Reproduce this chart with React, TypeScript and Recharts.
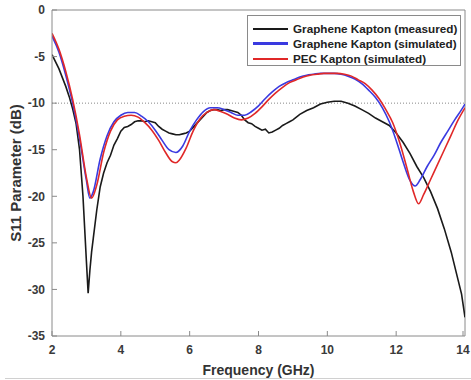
import React from "react";
import { LineChart, Line, XAxis, YAxis, ReferenceLine, Legend } from "recharts";

const xTicks = [2, 4, 6, 8, 10, 12, 14];
const yTicks = [-35, -30, -25, -20, -15, -10, -5, 0];

const measuredFreq = [
  2.0, 2.2, 2.4, 2.5, 2.6, 2.7, 2.8, 2.9, 3.0, 3.05, 3.1, 3.15, 3.2, 3.3, 3.4, 3.5, 3.6, 3.7, 3.8, 3.9,
  4.0, 4.1, 4.2, 4.3, 4.4, 4.5, 4.6, 4.7, 4.8, 4.9, 5.0, 5.1, 5.2, 5.3, 5.4, 5.5, 5.6, 5.7, 5.8, 5.9,
  6.0, 6.1, 6.2, 6.3, 6.4, 6.5, 6.6, 6.7, 6.8, 6.9, 7.0, 7.1, 7.2, 7.3, 7.4, 7.5, 7.6, 7.7, 7.8, 7.9,
  8.0, 8.1, 8.2, 8.3, 8.4, 8.5, 8.6, 8.7, 8.8, 8.9, 9.0, 9.2, 9.4, 9.6, 9.8, 10.0, 10.2, 10.4, 10.6, 10.8,
  11.0, 11.2, 11.4, 11.6, 11.8, 12.0, 12.2, 12.4, 12.6, 12.8, 13.0, 13.2, 13.4, 13.6, 13.8, 13.9, 14.0,
];
const measuredS11 = [
  -4.8, -6.3, -8.2, -9.3, -10.6, -12.2, -15.0, -20.0, -27.0, -30.4, -28.0, -26.0, -24.5, -21.5, -19.0, -17.5, -16.4, -15.6, -14.5, -13.8,
  -13.0, -12.6, -12.5, -12.3, -12.0, -11.9, -11.9, -12.0, -11.9, -12.0, -12.1, -12.5, -12.8, -13.0, -13.2, -13.3, -13.4, -13.4, -13.3, -13.2,
  -13.0, -12.6, -12.2, -11.8, -11.4, -11.0, -10.8, -10.7, -10.7, -10.8, -10.7, -10.7, -10.8, -10.9, -11.0, -11.3, -11.8, -12.1, -12.2, -12.5,
  -12.7, -12.9, -12.8, -13.2, -13.1, -12.9, -12.7, -12.4, -12.2, -12.0, -11.8, -11.2, -10.8, -10.5, -10.1, -9.9, -9.8, -9.8, -10.0, -10.3,
  -10.7, -11.1, -11.6, -12.0, -12.4, -13.2, -14.2, -15.4, -16.8, -18.0, -19.5, -21.3, -23.5, -26.0, -29.0, -30.5, -33.0,
];

const grapheneSimFreq = [
  2.0, 2.2, 2.4, 2.6, 2.8, 3.0, 3.1, 3.2, 3.4, 3.6, 3.8, 4.0, 4.2, 4.4, 4.6, 4.8, 5.0, 5.2, 5.4, 5.6,
  5.8, 6.0, 6.2, 6.4, 6.6, 6.8, 7.0, 7.2, 7.4, 7.6, 7.8, 8.0, 8.2, 8.4, 8.6, 8.8, 9.0, 9.2, 9.4, 9.6,
  9.8, 10.0, 10.2, 10.4, 10.6, 10.8, 11.0, 11.2, 11.4, 11.6, 11.8, 12.0, 12.2, 12.4, 12.55, 12.7, 12.9, 13.1, 13.3, 13.5,
  13.7, 13.9, 14.0,
];
const grapheneSimS11 = [
  -2.8, -4.5, -7.0, -10.0, -13.8, -18.3, -20.2, -19.5, -16.0, -13.5, -12.0, -11.3, -11.0, -11.0, -11.4, -12.0, -12.9, -14.0, -15.0, -15.3,
  -14.6, -13.0, -11.8, -10.9, -10.5, -10.5, -10.7, -11.0, -11.3, -11.3, -10.9, -10.3, -9.5, -8.8, -8.2, -7.8, -7.5, -7.2, -7.0, -6.9,
  -6.8, -6.8, -6.8, -6.9, -7.1, -7.4, -7.9, -8.6, -9.4, -10.5, -12.0, -14.0, -16.3, -18.3, -18.9, -18.2, -16.8, -15.6, -14.2, -13.0,
  -11.8, -10.7, -10.1,
];

const pecSimFreq = [
  2.0, 2.2, 2.4, 2.6, 2.8, 3.0, 3.15, 3.3, 3.5, 3.7, 3.9, 4.1, 4.3, 4.5, 4.7, 4.9, 5.1, 5.3, 5.5, 5.6,
  5.7, 5.9, 6.1, 6.3, 6.5, 6.7, 6.9, 7.1, 7.3, 7.5, 7.7, 7.9, 8.1, 8.3, 8.5, 8.7, 8.9, 9.1, 9.3, 9.5,
  9.7, 9.9, 10.1, 10.3, 10.5, 10.7, 10.9, 11.1, 11.3, 11.5, 11.7, 11.9, 12.1, 12.3, 12.5, 12.65, 12.8, 13.0, 13.2, 13.4,
  13.6, 13.8, 14.0,
];
const pecSimS11 = [
  -2.5, -4.2, -6.6, -9.6, -13.4, -18.0, -20.2, -18.8, -15.3, -13.0, -11.8, -11.4, -11.3, -11.5, -12.1, -12.9, -14.0, -15.3, -16.3, -16.4,
  -16.1, -14.8, -13.0, -11.7, -11.0, -10.7, -10.9, -11.2, -11.6, -11.8, -11.6, -11.1, -10.4, -9.6, -8.9, -8.3, -7.8, -7.5, -7.2, -7.0,
  -6.9, -6.8, -6.8, -6.8, -6.9, -7.1, -7.5, -7.9, -8.6, -9.5, -10.7, -12.1, -14.2, -16.8, -19.5, -20.8, -19.8, -18.2, -16.6, -15.0,
  -13.4, -11.8, -10.5,
];

const seriesNames = [
  "Graphene Kapton (measured)",
  "Graphene Kapton (simulated)",
  "PEC Kapton (simulated)",
];
const seriesColors = ["#1a1a1a", "#3a3ae0", "#e02828"];

const toRows = (fs: number[], vs: number[]) => fs.map((f, i) => ({ f, v: vs[i] }));
const measuredData = toRows(measuredFreq, measuredS11);
const grapheneData = toRows(grapheneSimFreq, grapheneSimS11);
const pecData = toRows(pecSimFreq, pecSimS11);

const FONT = "'Liberation Sans', Arial, Helvetica, sans-serif";
const AXIS = "#8a8a8a";
const LABEL_FILL = "#3a3a3a";

const BottomTick = (p: any) => (
  <g>
    <line x1={p.x} x2={p.x} y1={p.y} y2={p.y - 5} stroke={AXIS} strokeWidth={1} />
    <text x={p.x} y={p.y + 9} dy="0.71em" textAnchor="middle" fontSize={12} fontWeight={700} fill={LABEL_FILL} fontFamily={FONT}>
      {p.payload.value}
    </text>
  </g>
);
const LeftTick = (p: any) => (
  <g>
    <line x1={p.x} x2={p.x + 5} y1={p.y} y2={p.y} stroke={AXIS} strokeWidth={1} />
    <text x={p.x - 7} y={p.y} dy="0.355em" textAnchor="end" fontSize={12} fontWeight={700} fill={LABEL_FILL} fontFamily={FONT}>
      {p.payload.value}
    </text>
  </g>
);
const TopTick = (p: any) => <line x1={p.x} x2={p.x} y1={p.y} y2={p.y + 5} stroke={AXIS} strokeWidth={1} />;
const RightTick = (p: any) => <line x1={p.x} x2={p.x - 5} y1={p.y} y2={p.y} stroke={AXIS} strokeWidth={1} />;

const LegendBox = () => (
  <div
    style={{
      width: 214,
      height: 51,
      boxSizing: "border-box",
      border: "1px solid #8a8a8a",
      background: "#ffffff",
      padding: "5px 0 0 5px",
      fontFamily: FONT,
      fontSize: 11.7,
      fontWeight: 700,
      color: "#222",
      whiteSpace: "nowrap",
    }}
  >
    {seriesNames.map((n, i) => (
      <div key={n} style={{ display: "flex", alignItems: "center", height: 15, lineHeight: "15px" }}>
        <div style={{ width: 35, flex: "none", height: i === 1 ? 2.5 : 2, background: seriesColors[i], marginRight: 5 }} />
        <span>{n}</span>
      </div>
    ))}
  </div>
);

export default function App() {
  return (
    <div style={{ position: "absolute", left: 0, top: 0, width: 471, height: 380, background: "#fff" }}>
      <LineChart width={471} height={380} margin={{ top: 10, right: 6, left: 0, bottom: 0 }}>
        <XAxis
          dataKey="f"
          type="number"
          domain={[2, 14]}
          ticks={xTicks}
          allowDataOverflow
          height={44}
          stroke={AXIS}
          tickSize={0}
          tickMargin={0}
          tickLine={false}
          tick={BottomTick}
          label={{ value: "Frequency (GHz)", position: "insideBottom", offset: 5, style: { fontSize: 14, fontWeight: 700, fill: "#333", fontFamily: FONT } }}
        />
        <XAxis
          xAxisId="top"
          orientation="top"
          dataKey="f"
          type="number"
          domain={[2, 14]}
          ticks={xTicks}
          allowDataOverflow
          height={0}
          axisLine={false}
          tickSize={0}
          tickMargin={0}
          tickLine={false}
          tick={TopTick}
        />
        <YAxis
          type="number"
          domain={[-35, 0]}
          ticks={yTicks}
          allowDataOverflow
          width={52}
          stroke={AXIS}
          tickSize={0}
          tickMargin={0}
          tickLine={false}
          tick={LeftTick}
          label={{ value: "S11 Parameter (dB)", angle: -90, position: "insideLeft", offset: 16, style: { textAnchor: "middle", fontSize: 15, fontWeight: 700, fill: "#333", fontFamily: FONT } }}
        />
        <YAxis
          yAxisId="right"
          orientation="right"
          type="number"
          domain={[-35, 0]}
          ticks={yTicks}
          allowDataOverflow
          width={0}
          axisLine={false}
          tickSize={0}
          tickMargin={0}
          tickLine={false}
          tick={RightTick}
        />
        <ReferenceLine y={0} stroke={AXIS} strokeWidth={1} />
        <ReferenceLine x={14} stroke={AXIS} strokeWidth={1} />
        <ReferenceLine y={-10} stroke="#888" strokeDasharray="1 2" strokeWidth={1} />
        <Line data={measuredData} dataKey="v" name={seriesNames[0]} type="linear" stroke={seriesColors[0]} strokeWidth={1.6} dot={false} isAnimationActive={false} />
        <Line data={grapheneData} dataKey="v" name={seriesNames[1]} type="monotone" stroke={seriesColors[1]} strokeWidth={1.6} dot={false} isAnimationActive={false} />
        <Line data={pecData} dataKey="v" name={seriesNames[2]} type="monotone" stroke={seriesColors[2]} strokeWidth={1.6} dot={false} isAnimationActive={false} />
        <Legend
          layout="vertical"
          align="center"
          verticalAlign="middle"
          content={() => <LegendBox />}
          wrapperStyle={{ position: "absolute", left: 247, top: 15, width: 214, height: 51 }}
        />
      </LineChart>
      <div style={{ position: "absolute", left: 5, top: 378, width: 466, height: 1, background: "#d0d0d0" }} />
    </div>
  );
}
